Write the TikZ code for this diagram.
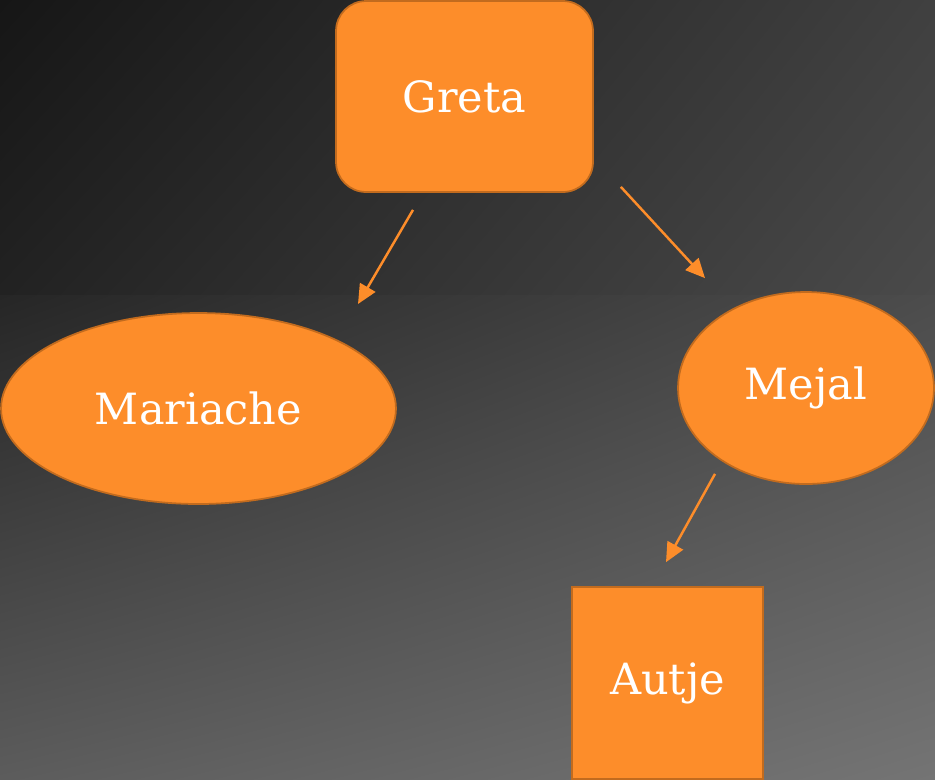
\documentclass[tikz,border=0pt]{standalone}
\usepackage{fontspec}
\setmainfont{DejaVu Serif}
\usetikzlibrary{shapes.geometric,arrows.meta,shadings}

\definecolor{orangefill}{HTML}{FD8D2A}
\definecolor{orangeline}{HTML}{C26B1E}
\definecolor{bgA}{HTML}{161616}
\definecolor{bgB}{HTML}{404040}
\definecolor{bgC}{HTML}{222222}
\definecolor{bgD}{HTML}{4A4A4A}
\definecolor{bgE}{HTML}{262626}
\definecolor{bgF}{HTML}{4C4C4C}
\definecolor{bgG}{HTML}{5C5C5C}
\definecolor{bgH}{HTML}{747474}

\begin{document}
\begin{tikzpicture}[x=0.02cm, y=-0.02cm,
    every node/.style={align=center, text=white, font=\fontsize{24.5}{28}\selectfont},
    box/.style={draw=orangeline, fill=orangefill, line width=1pt, inner sep=0pt},
    oval/.style={box, ellipse},
    link/.style={draw=orangefill, line width=1.4pt, -{Triangle[length=11pt,width=10pt]}}]
    \useasboundingbox (0,0) rectangle (935,779);
    % background
    \shade[upper left=bgA, upper right=bgB, lower left=bgC, lower right=bgD] (0,0) rectangle (935,296);
    \shade[upper left=bgE, upper right=bgF, lower left=bgG, lower right=bgH] (0,295) rectangle (935,779);
    \begin{scope}
    \clip (0,0) rectangle (935,779);
    \node[box, rounded corners=0.6cm, minimum width=5.14cm, minimum height=3.82cm] (greta) at (464.5,96.5) {Greta};
    \node[oval, minimum width=7.9cm, minimum height=3.82cm] (mariache) at (198.5,408.5) {Mariache};
    \node[oval, minimum width=5.12cm, minimum height=3.84cm] (mejal) at (806,388) {Mejal};
    \node[box, minimum width=3.82cm, minimum height=3.84cm] (autje) at (667.5,683) {Autje};
    \end{scope}
    \draw[link] ([shift={(-51.5,17)}]greta.south) -- ([shift={(159.5,-104.5)}]mariache.center);
    \draw[link] ([shift={(27,-6)}]greta.south east) -- ([shift={(-101,-13)}]mejal.north);
    \draw[link] ([shift={(-91,-11)}]mejal.south) -- ([shift={(-1.5,-24)}]autje.north);
\end{tikzpicture}
\end{document}
